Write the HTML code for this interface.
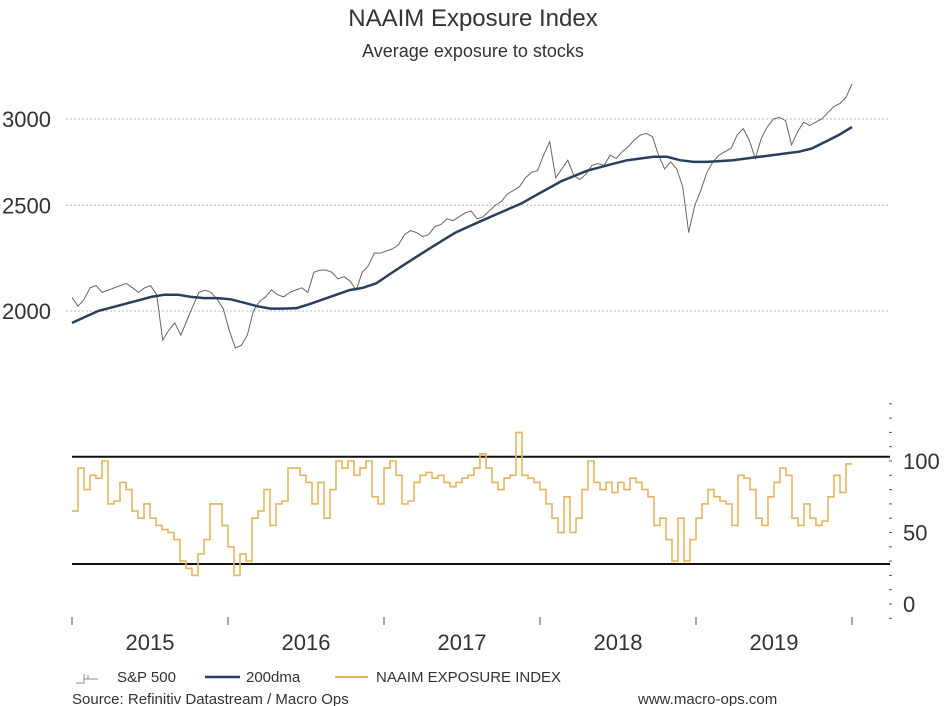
<!DOCTYPE html>
<html><head><meta charset="utf-8">
<style>
html,body{margin:0;padding:0;background:#fff;width:946px;height:706px;overflow:hidden}
svg{display:block;font-family:"Liberation Sans",Arial,sans-serif}
</style></head>
<body>
<svg id="chart" width="946" height="706" viewBox="0 0 946 706">
<text x="473" y="26" text-anchor="middle" font-size="24" fill="#333">NAAIM Exposure Index</text>
<text x="473" y="57" text-anchor="middle" font-size="18" fill="#333">Average exposure to stocks</text>
<g id="topPanel"></g>
<g id="botPanel"></g>
<g id="xaxisPanel"></g>
<g>
 <g>
  <path d="M76 683 L84 683 L84 674 M84 679 L92 679 M88 679 L88 675 M92 679 L98 679" stroke="#888" stroke-width="1" fill="none"/>
  <text x="117" y="682" font-size="15" fill="#333">S&amp;P 500</text>
 </g>
 <g>
  <line x1="205" y1="677" x2="240" y2="677" stroke="#2b3f5c" stroke-width="2.5"/>
  <text x="246" y="682" font-size="15" fill="#333">200dma</text>
 </g>
 <g>
  <line x1="335" y1="677" x2="368" y2="677" stroke="#e8b55a" stroke-width="2"/>
  <text x="376" y="682" font-size="15" fill="#333">NAAIM EXPOSURE INDEX</text>
 </g>
</g>
<text x="72" y="704" font-size="15" fill="#333">Source: Refinitiv Datastream / Macro Ops</text>
<text x="638" y="704" font-size="15" fill="#333">www.macro-ops.com</text>
</svg>
<script>
const years = ["2015","2016","2017","2018","2019"];
const spTicks = [2000, 2500, 3000];
const naaimTicks = [0, 50, 100];
const bandLevels = [28, 103];
const sp500 = [2058,2020,2050,2100,2110,2080,2090,2100,2110,2120,2100,2080,2100,2110,2070,1880,1920,1950,1900,1960,2020,2080,2090,2080,2050,2010,
1920,1850,1860,1900,2000,2040,2060,2090,2070,2060,2080,2090,2100,2080,2170,2180,2180,2170,2140,2150,2130,2090,2170,2200,2260,2260,
2270,2280,2300,2350,2370,2360,2340,2350,2390,2400,2430,2420,2440,2460,2470,2430,2440,2470,2500,2520,2560,2580,2600,2650,2680,2690,
2780,2860,2650,2700,2750,2660,2640,2670,2720,2730,2720,2780,2760,2800,2830,2870,2900,2910,2890,2780,2700,2740,2700,2600,2360,2500,
2580,2680,2740,2780,2800,2820,2900,2940,2870,2760,2880,2950,3000,3010,2990,2840,2920,2980,2960,2980,3000,3040,3080,3100,3140,3230];
const dma200 = [1950,1975,2000,2015,2030,2045,2060,2070,2070,2060,2055,2055,
2050,2035,2020,2010,2010,2012,2030,2050,2070,2090,2100,2120,
2160,2200,2240,2280,2320,2360,2390,2420,2450,2480,2510,2550,
2590,2630,2660,2690,2710,2730,2750,2760,2770,2770,2750,2740,
2740,2745,2750,2760,2770,2780,2790,2800,2820,2860,2900,2950];
const naaim = [65,95,80,90,88,100,70,72,85,80,65,60,70,60,55,52,50,45,30,25,20,35,45,70,70,55,
40,20,35,30,60,65,80,55,70,72,95,95,90,85,70,85,60,80,100,95,100,90,95,100,75,70,
95,100,90,70,72,85,90,92,88,90,85,82,85,88,90,95,105,95,85,80,88,90,120,90,88,85,
80,70,60,50,75,50,60,80,100,85,80,85,78,85,80,88,85,80,75,55,60,45,30,60,30,45,
60,70,80,75,72,70,55,90,88,80,60,55,75,85,95,90,60,55,70,60,55,58,75,90,78,98];

const NS="http://www.w3.org/2000/svg";
function mk(tag, attrs, parent){const e=document.createElementNS(NS,tag);for(const k in attrs)e.setAttribute(k,attrs[k]);parent.appendChild(e);return e;}
const X0=72, YW=156;
const xT = t => X0 + (t-2015)*YW;
const ySP = v => 119 - (Math.log10(v)-Math.log10(3000))*1090;
const yN = v => 604 - v*1.43;
const topG=document.getElementById('topPanel'), botG=document.getElementById('botPanel'), xaG=document.getElementById('xaxisPanel');

spTicks.forEach(v=>{
  const l=mk('line',{x1:66,x2:890,y1:ySP(v),y2:ySP(v),stroke:'#bbb','stroke-width':1,'stroke-dasharray':'2,2'},topG);
  
  
  const t=mk('text',{x:2,y:ySP(v)+8,'font-size':22,fill:'#333'},topG);
  t.textContent=v;
  
  
});
function pathOf(arr, yf){const n=arr.length;return arr.map((v,i)=>(i?'L':'M')+xT(2015+5*i/(n-1)).toFixed(1)+' '+yf(v).toFixed(1)).join(' ');}
const sp=mk('path',{d:pathOf(sp500,ySP),fill:'none',stroke:'#666','stroke-width':1},topG);


const dm=mk('path',{d:pathOf(dma200,ySP),fill:'none',stroke:'#2b3f5c','stroke-width':2.5},topG);



bandLevels.forEach(v=>{
  const l=mk('line',{x1:72,x2:890,y1:yN(v),y2:yN(v),stroke:'#111','stroke-width':2},botG);
  
  
});
for(let v=-10;v<=140;v+=10){
  const d=mk('line',{x1:889,x2:892,y1:yN(v),y2:yN(v),stroke:'#555','stroke-width':1},botG);
  
  
}
naaimTicks.forEach(v=>{
  const t=mk('text',{x:903,y:yN(v)+8,'font-size':22,fill:'#333'},botG);
  t.textContent=v;
  
  
});
{
  const n=naaim.length;let d='';
  naaim.forEach((v,i)=>{const x=xT(2015+5*i/n);const y=yN(v);d+=(i?'H'+x.toFixed(1)+'V':'M'+x.toFixed(1)+' ')+y.toFixed(1);});
  d+='H'+xT(2020).toFixed(1);
  const p=mk('path',{d:d,fill:'none',stroke:'#e8b55a','stroke-width':1.6},botG);
  
  
}
for(let i=0;i<=years.length;i++){
  const tk=mk('line',{x1:xT(2015+i),x2:xT(2015+i),y1:617,y2:625,stroke:'#555','stroke-width':1},xaG);
  
  
}
years.forEach((y,i)=>{
  const t=mk('text',{x:xT(2015.5+i),y:650,'text-anchor':'middle','font-size':22,fill:'#333'},xaG);
  t.textContent=y;
  
  
});
</script>
</body></html>
